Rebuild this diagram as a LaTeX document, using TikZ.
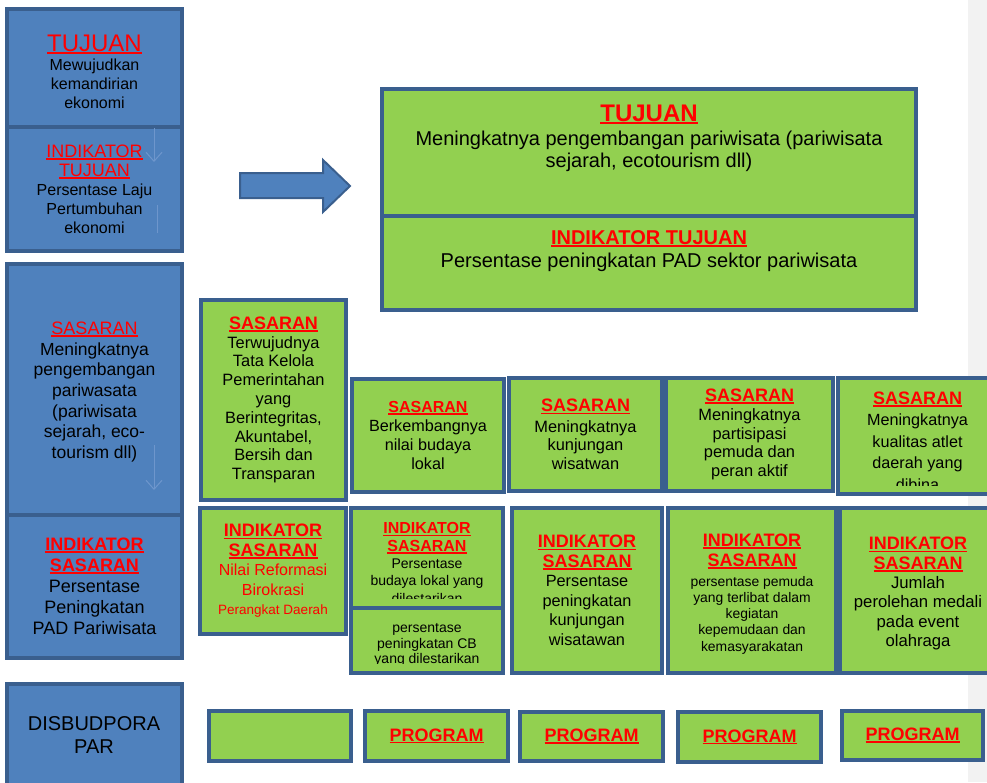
\documentclass[tikz,border=0pt]{standalone}
\usepackage{fontspec}
\setmainfont{Liberation Sans}
\usetikzlibrary{arrows.meta}

\definecolor{biru}{HTML}{4F81BD}
\definecolor{garis}{HTML}{3A5F8E}
\definecolor{hijau}{HTML}{92D050}
\definecolor{abu}{HTML}{F2F2F2}
\definecolor{samar}{HTML}{6E96CC}

\newcommand\fs[2]{\fontsize{#1}{#2}\selectfont}
\newsavebox\judulbox
\newcommand\judul[1]{{\color{red}\sbox\judulbox{#1}\rlap{\rule[-2.4pt]{\wd\judulbox}{1.7pt}}\usebox\judulbox}}

\tikzset{
  kotakbiru/.style={draw=garis, fill=biru, line width=3.5pt, inner sep=0pt, outer sep=0pt, anchor=north west, align=center},
  kotakhijau/.style={draw=garis, fill=hijau, line width=4pt, inner sep=0pt, outer sep=0pt, anchor=north west, align=center},
  isi/.style={inner sep=0pt, align=center},
  panahsamar/.style={draw=samar, line width=1pt},
}

\begin{document}
\begin{tikzpicture}[x=1pt,y=-1pt]
\useasboundingbox (0,0) rectangle (987,782);
\fill[abu] (968,0) rectangle (987,782);

% kolom kiri
\node[kotakbiru, minimum width=175pt, minimum height=118pt] (tujuanKiri) at (7,9) {};
\node[isi, font=\fs{16}{19}] (tujuanKiriT) at (94.5,72)
  {{\fs{24}{24}\judul{TUJUAN}}\\Mewujudkan\\kemandirian\\ekonomi};
\node[kotakbiru, minimum width=175pt, minimum height=124pt, font=\fs{16}{19}] (indTujuanKiri) at (7,127)
  {{\fs{18}{20}\judul{INDIKATOR}}\\{\fs{18}{20}\judul{TUJUAN}}\\Persentase Laju\\Pertumbuhan\\ekonomi};
\node[kotakbiru, minimum width=175pt, minimum height=251pt] (sasaranKiri) at (7,264) {};
\node[isi, font=\fs{17.5}{20.7}] (sasaranKiriT) at (94.5,392)
  {{\fs{18}{20}\judul{SASARAN}}\\Meningkatnya\\pengembangan\\pariwasata\\(pariwisata\\sejarah, eco-\\tourism dll)};
\node[kotakbiru, minimum width=175pt, minimum height=143pt, font=\fs{18}{21}] (indSasaranKiri) at (7,515)
  {{\bfseries\judul{INDIKATOR}}\\{\bfseries\judul{SASARAN}}\\Persentase\\Peningkatan\\PAD Pariwisata};
\node[kotakbiru, minimum width=175pt, minimum height=120pt] (disbudpora) at (7,684) {};
\node[isi, font=\fs{20}{23}] (disbudporaT) at (94,735) {DISBUDPORA\\PAR};

\draw[panahsamar, -{Straight Barb[length=9pt,width=16pt]}] (154,128) -- (154,162);
\draw[panahsamar] (157,205) -- (157,233);
\draw[panahsamar, -{Straight Barb[length=9pt,width=16pt]}] (154,445) -- (154,490);

% panah besar
\filldraw[draw=garis, fill=biru, line width=2pt, line join=miter]
  (240,173) -- (323,173) -- (323,160) -- (350,186) -- (323,212) -- (323,198) -- (240,198) -- cycle;

% tujuan utama
\node[kotakhijau, minimum width=534pt, minimum height=127pt] (tujuanUtama) at (382,89) {};
\node[kotakhijau, minimum width=534pt, minimum height=94pt] (indTujuanUtama) at (382,216) {};
\node[isi, font=\fs{20}{22}] (tujuanUtamaT) at (649,138)
  {{\fs{24}{26}\bfseries\judul{TUJUAN}}\\[2pt]Meningkatnya pengembangan pariwisata (pariwisata\\sejarah, ecotourism dll)};
\node[isi, font=\fs{20}{23}] (indTujuanUtamaT) at (649,251)
  {{\fs{20}{22}\bfseries\judul{INDIKATOR TUJUAN}}\\Persentase peningkatan PAD sektor pariwisata};

% sasaran
\node[kotakhijau, minimum width=145pt, minimum height=200pt, font=\fs{16.4}{18.8}] (sasaran1) at (201,300)
  {{\fs{18}{20}\bfseries\judul{SASARAN}}\\Terwujudnya\\Tata Kelola\\Pemerintahan\\yang\\Berintegritas,\\Akuntabel,\\Bersih dan\\Transparan};
\node[kotakhijau, minimum width=152pt, minimum height=113pt, font=\fs{16.2}{19}] (sasaran2) at (352,379)
  {{\fs{16}{18}\bfseries\judul{SASARAN}}\\Berkembangnya\\nilai budaya\\lokal};
\node[kotakhijau, minimum width=153pt, minimum height=113pt, font=\fs{16.4}{18.5}] (sasaran3) at (509,378)
  {{\fs{18}{20}\bfseries\judul{SASARAN}}\\[2pt]Meningkatnya\\kunjungan\\wisatwan};
\node[kotakhijau, minimum width=167pt, minimum height=113pt, font=\fs{16.4}{18.7}] (sasaran4) at (666,378)
  {{\fs{18}{20}\bfseries\judul{SASARAN}}\\Meningkatnya\\partisipasi\\pemuda dan\\peran aktif};
\node[kotakhijau, minimum width=160pt, minimum height=116pt] (sasaran5) at (838,378) {};
\begin{scope}
  \clip (838,380) rectangle (996,485);
  \node[isi, font=\fs{16.2}{21.5}] (sasaran5T) at (917.5,441)
    {{\fs{18}{20}\bfseries\judul{SASARAN}}\\Meningkatnya\\kualitas atlet\\daerah yang\\dibina};
\end{scope}

% indikator sasaran
\node[kotakhijau, minimum width=146pt, minimum height=126pt, font=\fs{16}{19.5}, text=red] (indikator1) at (200,508)
  {{\fs{18}{20}\bfseries\judul{INDIKATOR}}\\{\fs{18}{20}\bfseries\judul{SASARAN}}\\Nilai Reformasi\\Birokrasi\\{\fs{13.5}{15}Perangkat Daerah}};
\node[kotakhijau, minimum width=152pt, minimum height=100pt] (indikator2a) at (351,508) {};
\node[kotakhijau, minimum width=152pt, minimum height=65pt] (indikator2b) at (351,608) {};
\begin{scope}
  \clip (353,510) rectangle (501,598);
  \node[isi, font=\fs{14}{17.3}] (indikator2aT) at (427,563)
    {{\fs{16}{18}\bfseries\judul{INDIKATOR}}\\{\fs{16}{18}\bfseries\judul{SASARAN}}\\Persentase\\budaya lokal yang\\dilestarikan};
\end{scope}
\begin{scope}
  \clip (353,610) rectangle (501,663);
  \node[isi, font=\fs{14}{15.5}] (indikator2bT) at (427,645)
    {persentase\\peningkatan CB\\yang dilestarikan};
\end{scope}
\node[kotakhijau, minimum width=150pt, minimum height=165pt, font=\fs{16.3}{19.5}] (indikator3) at (512,508)
  {{\fs{18}{20}\bfseries\judul{INDIKATOR}}\\{\fs{18}{20}\bfseries\judul{SASARAN}}\\Persentase\\peningkatan\\kunjungan\\wisatawan};
\node[kotakhijau, minimum width=168pt, minimum height=165pt] (indikator4) at (668,508) {};
\node[isi, font=\fs{13.9}{16.3}] (indikator4T) at (752,594)
  {{\fs{18}{20}\bfseries\judul{INDIKATOR}}\\[4pt]{\fs{18}{20}\bfseries\judul{SASARAN}}\\[3pt]persentase pemuda\\yang terlibat dalam\\kegiatan\\kepemudaan dan\\kemasyarakatan};
\node[kotakhijau, minimum width=156pt, minimum height=165pt] (indikator5) at (840,508) {};
\node[isi, font=\fs{16.7}{19.3}] (indikator5T) at (918,593.5)
  {{\fs{18}{20}\bfseries\judul{INDIKATOR}}\\{\fs{18}{20}\bfseries\judul{SASARAN}}\\Jumlah\\perolehan medali\\pada event\\olahraga};

% program
\node[kotakhijau, minimum width=142pt, minimum height=50pt] (program1) at (209,711) {};
\node[kotakhijau, minimum width=143pt, minimum height=50pt, font=\fs{18}{20}\bfseries] (program2) at (365,711) {\judul{PROGRAM}};
\node[kotakhijau, minimum width=143pt, minimum height=49pt, font=\fs{18}{20}\bfseries] (program3) at (520,712) {\judul{PROGRAM}};
\node[kotakhijau, minimum width=143pt, minimum height=50pt, font=\fs{18}{20}\bfseries] (program4) at (678,712) {\judul{PROGRAM}};
\node[kotakhijau, minimum width=141pt, minimum height=49pt, font=\fs{18}{20}\bfseries] (program5) at (842,711) {\judul{PROGRAM}};
\end{tikzpicture}
\end{document}
